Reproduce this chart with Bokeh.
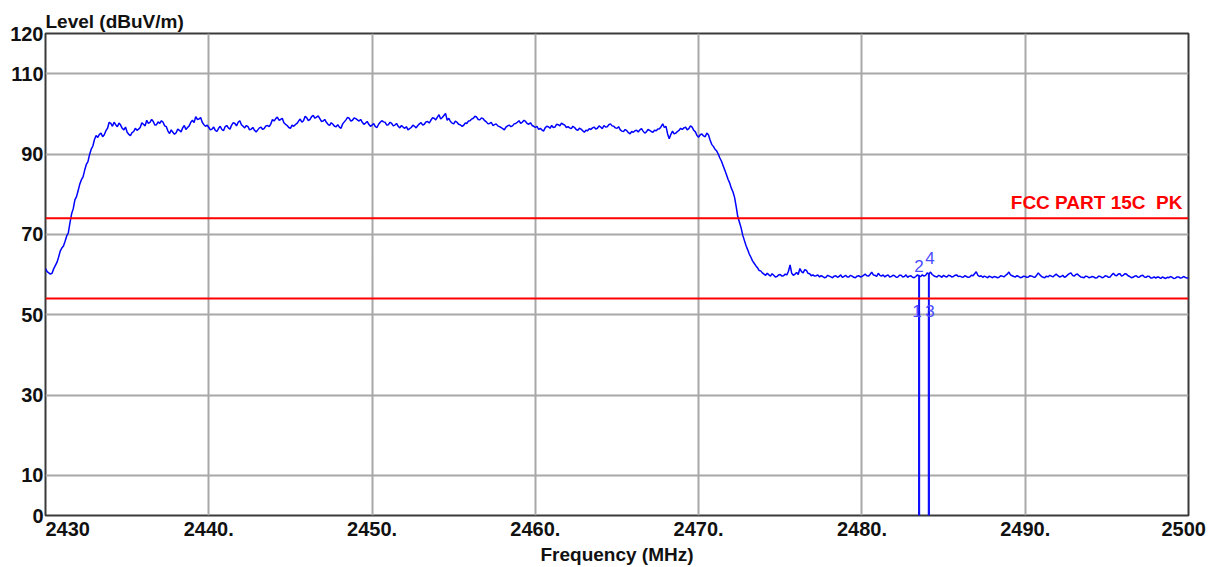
import numpy as np
from bokeh.plotting import figure
from bokeh.models import FixedTicker, Span, Label, ColumnDataSource, Range1d
from bokeh.embed import file_html
from bokeh.resources import INLINE
from bokeh.core.properties import value

# ---------------- data ----------------
freq_start = 2430.0
freq_stop = 2500.0

# measured trace level (dBuV/m), 0.1 MHz steps, one row = 2 MHz
level_rows = [
    [61.5, 60.7, 60.4, 60.1, 60.3, 61.4, 62.2, 63.0, 64.3, 65.8, 66.6, 67.1, 68.3, 69.6, 70.4, 72.9, 75.1, 76.4, 78.6, 79.4],  # 2430
    [80.9, 82.5, 83.6, 84.3, 86.0, 87.4, 88.1, 89.9, 91.2, 92.0, 93.6, 94.6, 94.1, 94.9, 95.2, 94.3, 94.8, 95.8, 96.4, 97.9],  # 2432
    [97.6, 96.9, 97.9, 97.3, 96.8, 97.7, 97.2, 96.4, 96.0, 96.7, 95.4, 94.9, 94.6, 95.3, 95.6, 96.4, 95.9, 96.2, 96.6, 97.8],  # 2434
    [97.4, 97.0, 98.4, 97.6, 97.9, 98.6, 98.1, 97.2, 97.3, 98.0, 97.6, 98.3, 97.9, 97.0, 96.8, 95.7, 95.1, 96.0, 95.4, 94.9],  # 2436
    [95.3, 96.2, 95.9, 95.5, 96.5, 97.1, 96.1, 96.6, 97.0, 97.9, 98.4, 97.8, 99.3, 98.6, 98.7, 99.1, 97.9, 97.3, 96.9, 97.2],  # 2438
    [96.6, 96.0, 96.2, 96.7, 95.9, 95.6, 96.4, 96.9, 96.1, 95.8, 96.8, 97.1, 96.5, 96.2, 97.2, 97.8, 97.6, 97.0, 97.9, 98.3],  # 2440
    [97.3, 96.9, 96.5, 97.1, 96.8, 96.0, 96.2, 96.6, 95.9, 95.5, 96.0, 96.5, 96.7, 96.1, 96.4, 97.0, 97.1, 96.8, 97.5, 98.6],  # 2442
    [98.2, 98.8, 99.2, 98.4, 98.6, 98.9, 97.8, 97.4, 97.1, 96.6, 96.4, 97.2, 96.9, 97.3, 97.6, 98.2, 98.7, 97.9, 98.3, 99.4],  # 2444
    [99.0, 98.3, 98.6, 99.3, 99.6, 98.9, 99.2, 99.5, 98.8, 98.1, 98.2, 98.6, 97.9, 97.4, 97.1, 97.8, 97.4, 96.9, 96.8, 97.3],  # 2446
    [96.7, 96.4, 97.5, 98.0, 98.5, 99.1, 98.9, 98.2, 98.4, 99.0, 98.8, 98.5, 98.2, 98.6, 97.9, 97.4, 97.7, 98.1, 97.4, 96.9],  # 2448
    [97.2, 97.6, 96.8, 96.6, 97.4, 97.9, 98.3, 98.0, 97.9, 97.2, 97.3, 97.9, 97.6, 97.0, 97.2, 97.6, 96.9, 96.5, 97.1, 96.7],  # 2450
    [96.4, 96.8, 96.0, 96.3, 96.6, 97.2, 96.9, 96.5, 97.1, 97.5, 97.8, 97.2, 97.4, 98.0, 98.1, 97.7, 98.4, 99.0, 98.9, 98.5],  # 2452
    [99.2, 99.8, 98.7, 99.1, 99.6, 100.1, 98.4, 98.9, 98.1, 97.7, 97.5, 98.2, 97.9, 97.4, 97.3, 96.9, 97.1, 97.7, 97.6, 98.2],  # 2454
    [98.3, 98.7, 98.9, 99.4, 99.2, 98.6, 98.5, 99.0, 98.8, 98.3, 98.0, 97.5, 97.6, 97.9, 97.1, 97.3, 97.5, 97.0, 96.8, 96.6],  # 2456
    [96.3, 96.0, 96.7, 97.0, 97.2, 96.8, 97.0, 97.5, 97.6, 97.9, 98.3, 97.6, 97.9, 98.4, 98.1, 97.6, 97.4, 97.8, 97.1, 96.9],  # 2458
    [96.6, 96.9, 96.1, 96.4, 96.0, 95.7, 96.5, 96.9, 96.8, 96.4, 97.1, 96.6, 96.7, 97.4, 97.3, 97.0, 97.7, 97.4, 97.2, 96.6],  # 2460
    [96.8, 96.5, 96.3, 96.9, 96.6, 96.1, 95.9, 96.4, 96.2, 95.8, 95.4, 95.9, 95.8, 96.3, 96.1, 96.5, 96.7, 96.2, 96.4, 97.0],  # 2462
    [96.7, 96.3, 97.1, 96.7, 96.8, 97.3, 97.5, 97.0, 96.9, 96.5, 96.4, 96.8, 96.0, 95.7, 95.6, 96.1, 95.8, 95.3, 95.0, 95.6],  # 2464
    [95.4, 95.8, 95.9, 95.5, 96.0, 96.3, 95.7, 95.2, 95.5, 96.1, 95.9, 95.6, 95.4, 95.9, 95.8, 96.2, 96.3, 96.8, 97.5, 96.6],  # 2466
    [96.9, 95.0, 93.8, 94.9, 95.7, 95.0, 95.2, 95.6, 95.9, 96.4, 96.1, 96.5, 96.7, 96.0, 96.3, 97.0, 96.7, 95.9, 95.5, 94.6],  # 2468
    [94.2, 94.8, 95.0, 94.5, 94.3, 95.2, 94.8, 93.5, 92.4, 91.9, 91.2, 90.8, 90.0, 89.0, 88.2, 87.1, 86.0, 84.9, 83.7, 82.8],  # 2470
    [81.5, 80.6, 79.2, 76.9, 74.3, 73.0, 71.6, 69.8, 68.5, 67.2, 66.2, 65.1, 64.3, 63.4, 62.8, 62.2, 61.7, 61.0, 60.9, 60.4],  # 2472
    [60.1, 59.8, 60.3, 59.9, 59.6, 60.2, 59.8, 59.4, 59.5, 59.9, 60.0, 59.6, 59.7, 60.1, 59.9, 60.8, 62.4, 60.3, 59.8, 60.1],  # 2474
    [60.5, 60.0, 61.5, 60.7, 60.4, 61.2, 61.0, 60.3, 60.2, 59.7, 59.9, 59.6, 59.7, 59.9, 59.4, 59.7, 59.5, 59.2, 59.3, 59.8],  # 2476
    [59.6, 59.4, 59.2, 59.6, 59.7, 59.3, 59.5, 59.9, 59.3, 59.5, 59.8, 59.4, 59.4, 59.8, 59.6, 59.3, 59.2, 59.6, 59.7, 59.4],  # 2478
    [59.5, 59.8, 60.1, 59.7, 59.6, 60.0, 60.6, 59.9, 59.8, 59.5, 60.3, 59.8, 59.6, 59.9, 59.4, 59.7, 59.9, 59.4, 59.5, 59.8],  # 2480
    [59.7, 59.3, 59.4, 59.8, 59.8, 59.4, 59.5, 59.9, 59.3, 59.6, 59.7, 59.3, 59.2, 59.5, 59.9, 59.6, 59.5, 59.9, 59.6, 59.8],  # 2482
    [60.4, 60.1, 60.6, 60.0, 59.7, 59.5, 59.4, 59.8, 59.6, 59.3, 59.8, 59.5, 59.4, 59.8, 59.7, 59.4, 59.5, 59.8, 59.9, 59.5],  # 2484
    [59.6, 59.4, 59.3, 59.7, 59.5, 59.3, 59.4, 59.8, 59.7, 60.2, 60.7, 59.8, 59.5, 59.7, 59.3, 59.6, 59.4, 59.2, 59.6, 59.4],  # 2486
    [59.2, 59.5, 59.4, 59.2, 59.3, 59.7, 59.6, 59.4, 59.8, 60.1, 60.6, 59.9, 59.7, 59.5, 59.4, 59.7, 59.5, 59.2, 59.3, 59.6],  # 2488
    [59.5, 59.3, 59.4, 59.7, 59.6, 59.4, 59.3, 59.8, 60.4, 59.9, 59.5, 59.3, 59.2, 59.6, 59.4, 59.8, 59.6, 59.4, 59.8, 60.1],  # 2490
    [59.7, 59.4, 59.5, 59.8, 59.3, 59.5, 59.9, 60.2, 60.4, 59.8, 59.6, 60.0, 60.1, 59.7, 59.4, 59.3, 59.2, 59.6, 59.5, 59.2],  # 2492
    [59.3, 59.5, 59.4, 59.1, 59.2, 59.6, 59.5, 59.2, 59.3, 59.7, 59.6, 59.3, 59.4, 59.9, 60.3, 59.8, 59.7, 60.1, 60.2, 59.6],  # 2494
    [59.8, 60.2, 60.1, 59.7, 59.5, 59.2, 59.3, 59.6, 59.7, 59.3, 59.4, 59.7, 59.8, 59.4, 59.3, 59.6, 59.5, 59.1, 59.2, 59.4],  # 2496
    [59.1, 59.4, 59.3, 59.0, 59.4, 59.2, 59.0, 59.3, 59.2, 59.5, 59.3, 59.0, 59.1, 59.4, 59.4, 59.1, 59.2, 59.5, 59.3, 59.1],  # 2498
]
level_last = [59.2]                                                 # 2500
level = [v for row in level_rows for v in row] + level_last
freq = np.linspace(freq_start, freq_stop, len(level))

limit_levels = [74.0, 54.0]
limit_name = "FCC PART 15C \u00a0PK"

marker_ids = ["1", "2", "3", "4"]
marker_freq = [2483.5, 2483.5, 2484.1, 2484.1]
marker_level = [51.0, 59.9, 51.0, 60.4]

x_ticks = [2430, 2440, 2450, 2460, 2470, 2480, 2490, 2500]
x_tick_labels = ["2430", "2440.", "2450.", "2460.", "2470.", "2480.", "2490.", "2500"]
y_ticks = [0, 10, 30, 50, 70, 90, 110, 120]
y_tick_labels = ["0", "10", "30", "50", "70", "90", "110", "120"]

y_title = "Level (dBuV/m)"
x_title = "Frequency (MHz)"

# ---------------- styles ----------------
FONT = "Liberation Sans"
GRID = "#a8a8a8"
FRAME = "#3a3a3a"
TXT = "#111111"
PAD_L = "\u00a0" * 8   # invisible padding: first label sits right of its tick
PAD_R = "\u00a0" * 1   # last label shifted a little to the left of centre

p = figure(width=1211, height=567,
           x_range=Range1d(freq_start, freq_stop), y_range=Range1d(0, 120),
           output_backend="svg", toolbar_location=None,
           min_border_left=45, min_border_right=23,
           min_border_top=33, min_border_bottom=52)
p.background_fill_color = "white"
p.border_fill_color = "white"
p.outline_line_color = FRAME
p.outline_line_width = 2

p.title.text = y_title
p.title.text_font = FONT
p.title.text_font_style = "bold"
p.title.text_font_size = "19px"
p.title.align = "left"
p.title.standoff = 4
p.title.text_color = TXT

# x axis
xa = p.xaxis[0]
xa.ticker = FixedTicker(ticks=x_ticks)
overrides = {t: lab for t, lab in zip(x_ticks, x_tick_labels)}
overrides[x_ticks[0]] = PAD_L + x_tick_labels[0]
overrides[x_ticks[-1]] = x_tick_labels[-1] + PAD_R
xa.major_label_overrides = overrides
xa.major_label_text_font = FONT
xa.major_label_text_font_style = "bold"
xa.major_label_text_font_size = "20px"
xa.major_label_text_color = TXT
xa.major_label_standoff = 2
xa.major_tick_out = 0
xa.major_tick_in = 0
xa.major_tick_line_color = None
xa.minor_tick_line_color = None
xa.axis_line_color = None
xa.axis_label = x_title
xa.axis_label_text_font = FONT
xa.axis_label_text_font_style = "bold"
xa.axis_label_text_font_size = "19px"
xa.axis_label_text_color = TXT
xa.axis_label_standoff = 1

# y axis
ya = p.yaxis[0]
ya.ticker = FixedTicker(ticks=y_ticks)
ya.major_label_overrides = {t: lab for t, lab in zip(y_ticks, y_tick_labels)}
ya.major_label_text_font = FONT
ya.major_label_text_font_style = "bold"
ya.major_label_text_font_size = "20px"
ya.major_label_text_color = TXT
ya.major_label_standoff = 2
ya.major_tick_out = 0
ya.major_tick_in = 0
ya.major_tick_line_color = None
ya.minor_tick_line_color = None
ya.axis_line_color = None

# grids
p.xgrid.ticker = FixedTicker(ticks=x_ticks[1:-1])
p.ygrid.ticker = FixedTicker(ticks=y_ticks[1:-1])
for g in (p.xgrid[0], p.ygrid[0]):
    g.grid_line_color = GRID
    g.grid_line_width = 2

# limit lines
for lv in limit_levels:
    p.add_layout(Span(location=lv, dimension="width", line_color="#ff0000", line_width=2))
p.add_layout(Label(x=freq_stop, y=limit_levels[0], text=limit_name, text_align="right",
                   text_baseline="bottom", x_offset=-6, y_offset=5, text_font=FONT,
                   text_font_style="bold", text_font_size="19px", text_color="#ff0000"))

# trace
p.line(freq, level, line_color="#0000ff", line_width=1.5)

# markers
msrc = ColumnDataSource(dict(f=marker_freq, lvl=marker_level, id=marker_ids,
                             zero=[0] * len(marker_ids),
                             dx=[-2, 0, 1, 1], dy=[0, -9, 0, -15]))
p.segment(x0="f", y0="zero", x1="f", y1="lvl", source=msrc,
          line_color="#1010ff", line_width=2)
p.text(x="f", y="lvl", text="id", source=msrc, x_offset="dx", y_offset="dy",
       text_align="center", text_baseline="middle",
       text_font=value(FONT), text_font_size="17px", text_color="#4b4bff")

open("out.html", "w").write(file_html(p, INLINE))
